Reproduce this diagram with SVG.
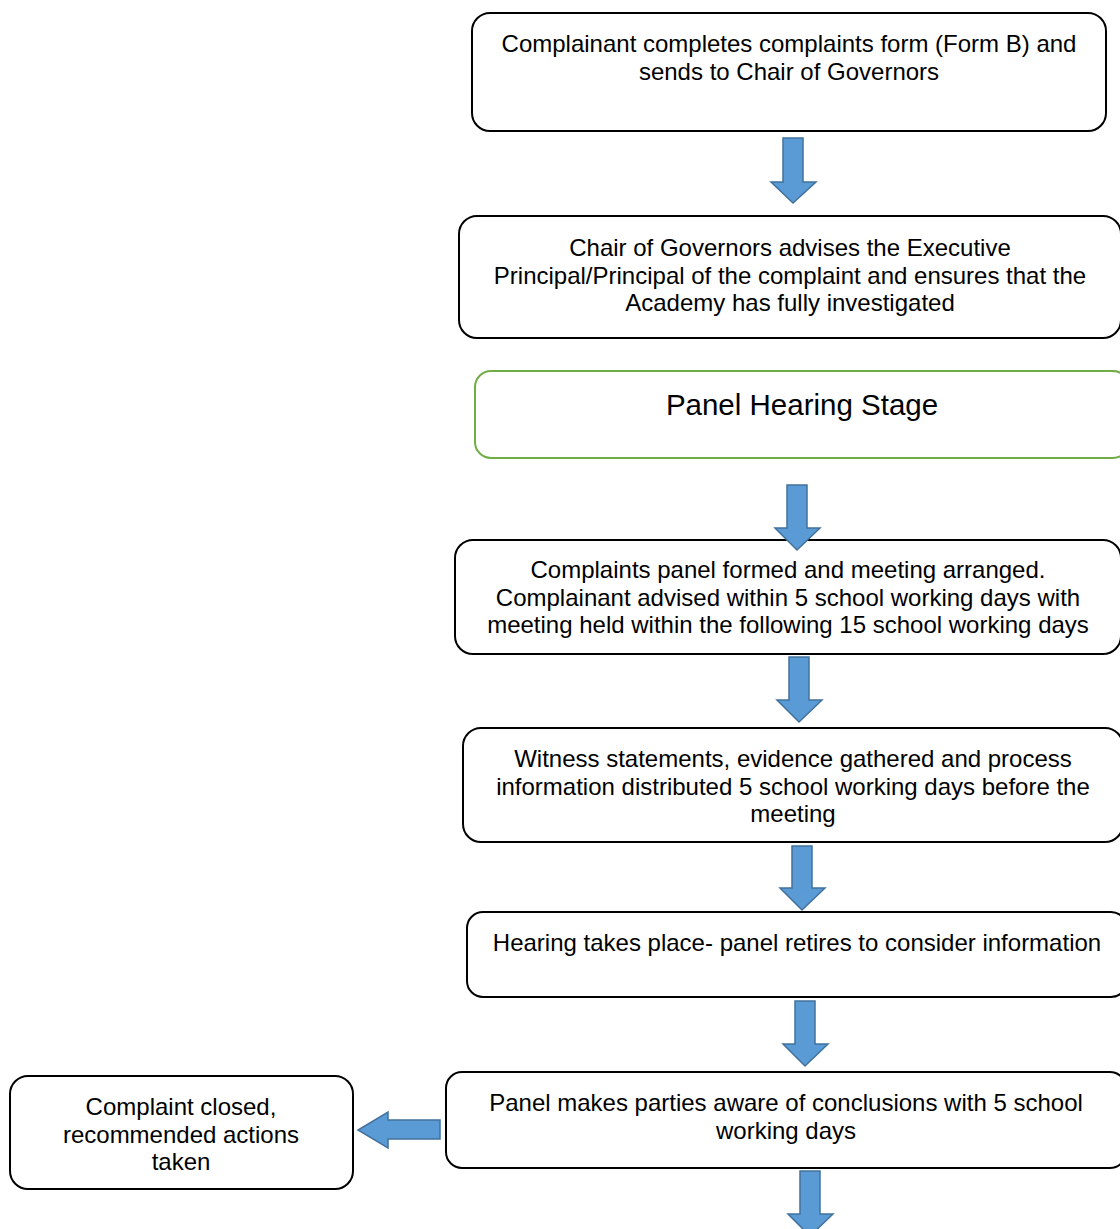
<svg xmlns="http://www.w3.org/2000/svg" width="1120" height="1229" viewBox="0 0 1120 1229">
<style>
.box{fill:#fff;stroke:#000;stroke-width:2}
.green{fill:#fff;stroke:#70AD47;stroke-width:2}
.t{font-family:"Liberation Sans",Arial,sans-serif;font-size:24px;fill:#000;text-anchor:middle}
.big{font-size:29.5px}
.arr{fill:#5B9BD5;stroke:#41719C;stroke-width:1.5;stroke-linejoin:miter}
</style>
<rect width="1120" height="1229" fill="#fff"/>
<g id="n1"><rect class="box" x="472" y="13" width="634" height="118" rx="18"/>
<text class="t" x="789" y="52">Complainant completes complaints form (Form B) and</text>
<text class="t" x="789" y="80">sends to Chair of Governors</text></g>
<g id="n2"><rect class="box" x="459" y="216" width="662" height="122" rx="18"/>
<text class="t" x="790" y="256">Chair of Governors advises the Executive</text>
<text class="t" x="790" y="284">Principal/Principal of the complaint and ensures that the</text>
<text class="t" x="790" y="311">Academy has fully investigated</text></g>
<g id="n3"><rect class="green" x="475" y="371" width="654" height="87" rx="16"/>
<text class="t big" x="802" y="415">Panel Hearing Stage</text></g>
<g id="n4"><rect class="box" x="455" y="540" width="666" height="114" rx="18"/>
<text class="t" x="788" y="578">Complaints panel formed and meeting arranged.</text>
<text class="t" x="788" y="606">Complainant advised within 5 school working days with</text>
<text class="t" x="788" y="633">meeting held within the following 15 school working days</text></g>
<g id="n5"><rect class="box" x="463" y="728" width="660" height="114" rx="18"/>
<text class="t" x="793" y="767">Witness statements, evidence gathered and process</text>
<text class="t" x="793" y="795">information distributed 5 school working days before the</text>
<text class="t" x="793" y="822">meeting</text></g>
<g id="n6"><rect class="box" x="467" y="912" width="660" height="85" rx="16"/>
<text class="t" x="797" y="951">Hearing takes place- panel retires to consider information</text></g>
<g id="n7"><rect class="box" x="446" y="1072" width="680" height="96" rx="16"/>
<text class="t" x="786" y="1111">Panel makes parties aware of conclusions with 5 school</text>
<text class="t" x="786" y="1139">working days</text></g>
<g id="n8"><rect class="box" x="10" y="1076" width="343" height="113" rx="18"/>
<text class="t" x="181" y="1115">Complaint closed,</text>
<text class="t" x="181" y="1143">recommended actions</text>
<text class="t" x="181" y="1170">taken</text></g>
<g id="connectors">
<path class="arr" d="M783 138 H803 V182 H816 L793 203 L771 182 H783 Z"/>
<path class="arr" d="M787 485 H807 V528 H820 L797 550 L775 528 H787 Z"/>
<path class="arr" d="M789 657 H809 V700 H822 L799 722 L777 700 H789 Z"/>
<path class="arr" d="M792 846 H812 V888 H825 L802 910 L780 888 H792 Z"/>
<path class="arr" d="M795 1001 H815 V1044 H828 L805 1066 L783 1044 H795 Z"/>
<path class="arr" d="M800 1171 H820 V1214 H833 L810 1236 L788 1214 H800 Z"/>
<path class="arr" d="M440 1120 V1139 H388 V1148 L358 1130 L388 1112 V1120 Z"/>
</g>
</svg>
